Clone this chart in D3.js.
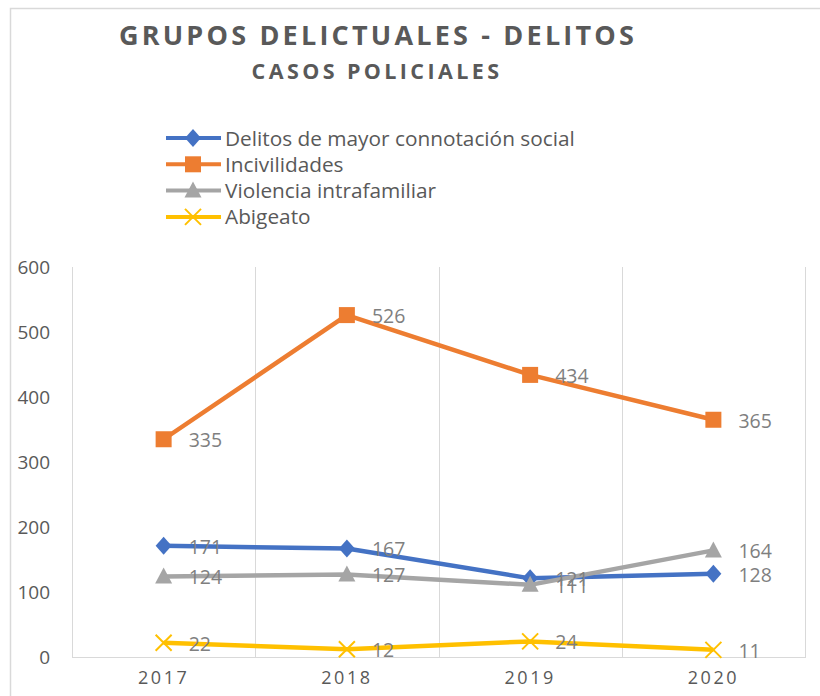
<!DOCTYPE html>
<html>
<head>
    <meta charset="utf-8">
    <title>Grupos delictuales - delitos</title>
    <script src="https://d3js.org/d3.v7.min.js"></script>
    <style>
        body { margin: 0; background: #fff; }
        text { font-family: "Open Sans", "Noto Sans", sans-serif; }
    </style>
</head>
<body>
<svg width="820" height="696"></svg>
<script>
    const width = 820;
    const height = 696;

    // data
    const years = ["2017", "2018", "2019", "2020"];
    const yTicks = [0, 100, 200, 300, 400, 500, 600];
    const delitos = [171, 167, 121, 128];
    const incivilidades = [335, 526, 434, 365];
    const violencia = [124, 127, 111, 164];
    const abigeato = [22, 12, 24, 11];

    const series = [
        { name: "Delitos de mayor connotación social", values: delitos, color: "#4472C4", marker: "diamond" },
        { name: "Incivilidades", values: incivilidades, color: "#ED7D31", marker: "square" },
        { name: "Violencia intrafamiliar", values: violencia, color: "#A5A5A5", marker: "triangle" },
        { name: "Abigeato", values: abigeato, color: "#FFC000", marker: "cross" }
    ];

    const margin = { left: 72, right: 805, top: 267, bottom: 657 };

    const svg = d3.select("svg");

    // outer chart border (runs off the right and bottom)
    svg.append("rect")
        .attr("x", 10.5).attr("y", 8.5)
        .attr("width", 830).attr("height", 710)
        .attr("fill", "none")
        .attr("stroke", "#d9d9d9")
        .attr("stroke-width", 1.5);

    const x = d3.scaleBand()
        .domain(years)
        .range([margin.left, margin.right]);

    const y = d3.scaleLinear()
        .domain([0, 600])
        .range([margin.bottom, margin.top]);

    // vertical gridlines between categories
    const gridX = years.map(d => x(d)).concat([margin.right]);
    svg.append("g").selectAll("line")
        .data(gridX.slice(1))
        .join("line")
        .attr("x1", d => Math.round(d) + 0.5).attr("x2", d => Math.round(d) + 0.5)
        .attr("y1", margin.top).attr("y2", margin.bottom)
        .attr("stroke", "#d9d9d9")
        .attr("stroke-width", 1);

    // axes lines
    svg.append("line")
        .attr("x1", margin.left + 0.5).attr("x2", margin.left + 0.5)
        .attr("y1", margin.top).attr("y2", margin.bottom)
        .attr("stroke", "#d9d9d9");
    svg.append("line")
        .attr("x1", margin.left).attr("x2", margin.right + 1)
        .attr("y1", margin.bottom + 0.5).attr("y2", margin.bottom + 0.5)
        .attr("stroke", "#d9d9d9");

    // y tick labels
    const yAxis = d3.axisLeft(y).tickValues(yTicks).tickSize(0).tickPadding(0);
    const gy = svg.append("g")
        .attr("transform", "translate(50,0)")
        .call(yAxis);
    gy.select(".domain").remove();
    gy.selectAll("text")
        .attr("font-size", 19)
        .attr("fill", "#595959")
        .attr("font-family", "Open Sans");

    // x tick labels
    const xAxis = d3.axisBottom(x).tickSize(0).tickPadding(0);
    const gx = svg.append("g")
        .attr("transform", "translate(0,671)")
        .call(xAxis);
    gx.select(".domain").remove();
    gx.selectAll("text")
        .attr("font-size", 18)
        .attr("fill", "#595959")
        .attr("letter-spacing", 2.5)
        .attr("font-family", "Open Sans");

    const cx = d => x(d) + x.bandwidth() / 2;

    function drawMarker(g, type, color) {
        if (type === "diamond") {
            g.append("path").attr("d", "M0,-9L8,0L0,9L-8,0Z").attr("fill", color);
        } else if (type === "square") {
            g.append("rect").attr("x", -8).attr("y", -8).attr("width", 16).attr("height", 16).attr("fill", color);
        } else if (type === "triangle") {
            g.append("path").attr("d", "M0,-9L8.5,7L-8.5,7Z").attr("fill", color);
        } else {
            g.append("path").attr("d", "M-8,-8L8,8M8,-8L-8,8")
                .attr("stroke", color).attr("stroke-width", 2).attr("fill", "none");
        }
    }

    const line = d3.line()
        .x((d, i) => cx(years[i]))
        .y(d => y(d));

    series.forEach(s => {
        svg.append("path")
            .datum(s.values)
            .attr("d", line)
            .attr("fill", "none")
            .attr("stroke", s.color)
            .attr("stroke-width", 4.5)
            .attr("stroke-linejoin", "round");

        s.values.forEach((v, i) => {
            const g = svg.append("g").attr("transform", `translate(${cx(years[i])},${y(v)})`);
            drawMarker(g, s.marker, s.color);
        });
    });

    // data labels
    series.forEach(s => {
        svg.append("g").selectAll("text")
            .data(s.values)
            .join("text")
            .attr("x", (d, i) => cx(years[i]) + 25)
            .attr("y", d => y(d) + 8)
            .attr("font-size", 19.5)
            .attr("fill", "#7f7f7f")
            .text(d => d);
    });

    // legend
    const legend = svg.append("g");
    series.forEach((s, i) => {
        const ly = 138 + i * 26.3;
        const g = legend.append("g").attr("transform", `translate(0,${ly})`);
        g.append("line")
            .attr("x1", 166).attr("x2", 221)
            .attr("stroke", s.color).attr("stroke-width", 4);
        const m = g.append("g").attr("transform", "translate(193,0)");
        drawMarker(m, s.marker, s.color);
        g.append("text")
            .attr("x", 225).attr("y", 7.5)
            .attr("font-size", 20.8)
            .attr("fill", "#595959")
            .text(s.name);
    });

    // titles
    svg.append("text")
        .attr("x", 378).attr("y", 45)
        .attr("text-anchor", "middle")
        .attr("font-size", 27)
        .attr("font-weight", "bold")
        .attr("letter-spacing", 3.2)
        .attr("fill", "#595959")
        .text("GRUPOS DELICTUALES - DELITOS");

    svg.append("text")
        .attr("x", 377).attr("y", 79)
        .attr("text-anchor", "middle")
        .attr("font-size", 21.5)
        .attr("font-weight", "bold")
        .attr("letter-spacing", 3.4)
        .attr("fill", "#595959")
        .text("CASOS POLICIALES");
</script>
</body>
</html>
